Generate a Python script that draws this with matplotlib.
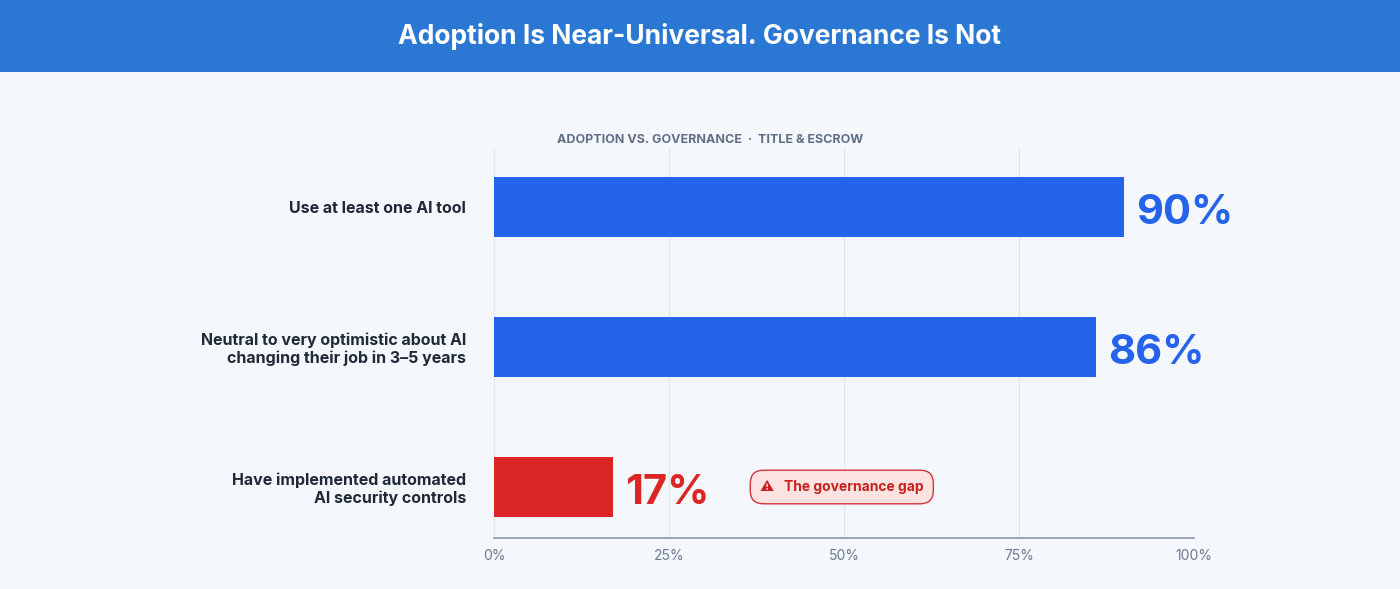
import matplotlib.pyplot as plt

labels = ["Use at least one AI tool",
          "Neutral to very optimistic about AI\nchanging their job in 3\u20135 years",
          "Have implemented automated\nAI security controls"]
values = [90, 86, 17]
colors = ["#2563eb", "#2563eb", "#dc2626"]
ticks = [0, 25, 50, 75, 100]

plt.rcParams['font.family'] = ['Inter', 'DejaVu Sans']

fig = plt.figure(figsize=(14, 5.89), dpi=100)
fig.patch.set_facecolor("#f4f7fb")

# header band
hdr = fig.add_axes([0, 1 - 72 / 589, 1, 72 / 589])
hdr.set_facecolor("#2b78d4")
hdr.set_xticks([]); hdr.set_yticks([])
for s in hdr.spines.values():
    s.set_visible(False)
hdr.text(0.5, 0.5, "Adoption Is Near-Universal. Governance Is Not", color="white",
         fontsize=19, fontweight="bold", ha="center", va="center")

ax = fig.add_axes([494 / 1400, 51 / 589, 700 / 1400, 390 / 589])
ax.set_facecolor("#f4f7fb")
ypos = list(range(len(values)))
ax.barh(ypos, values, height=60 / 140, color=colors, zorder=3)
ax.set_xlim(0, 100)
ax.set_ylim(2 + 51 / 140, -59 / 140)
ax.set_xticks(ticks)
ax.set_xticklabels([f"{t}%" for t in ticks], color="#6b7a90", fontsize=10)
ax.tick_params(axis="x", length=0, pad=8)
ax.set_yticks(ypos)
ax.set_yticklabels(labels, fontsize=11.5, fontweight="bold", color="#1f2937")
ax.tick_params(axis="y", length=0, pad=20)
ax.grid(axis="x", color="#e1e6ee", lw=0.8, zorder=0)
for s in ["top", "right", "left"]:
    ax.spines[s].set_visible(False)
ax.spines["bottom"].set_color("#8c98ab")
ax.spines["bottom"].set_linewidth(1.2)

for y, v, c in zip(ypos, values, colors):
    ax.text(v + 1.7, y + 0.04, f"{v}%", color=c, fontsize=30, fontweight="bold",
            va="center", ha="left", zorder=4)

ax.text(9, -0.48, "ADOPTION VS. GOVERNANCE  \u00b7  TITLE & ESCROW", color="#5f6e84",
        fontsize=9, fontweight="bold", va="center", ha="left", clip_on=False)

ax.text(38, 2.0, "\u26a0   The governance gap", color="#c5221f", fontsize=10, fontweight="bold",
        va="center", ha="left", family=['DejaVu Sans'] if False else ['Inter', 'DejaVu Sans'],
        bbox=dict(boxstyle="round,pad=0.7,rounding_size=0.95", fc="#fde2e2", ec="#d0353a", lw=1),
        zorder=4)

fig.savefig("out.png", facecolor=fig.get_facecolor())
